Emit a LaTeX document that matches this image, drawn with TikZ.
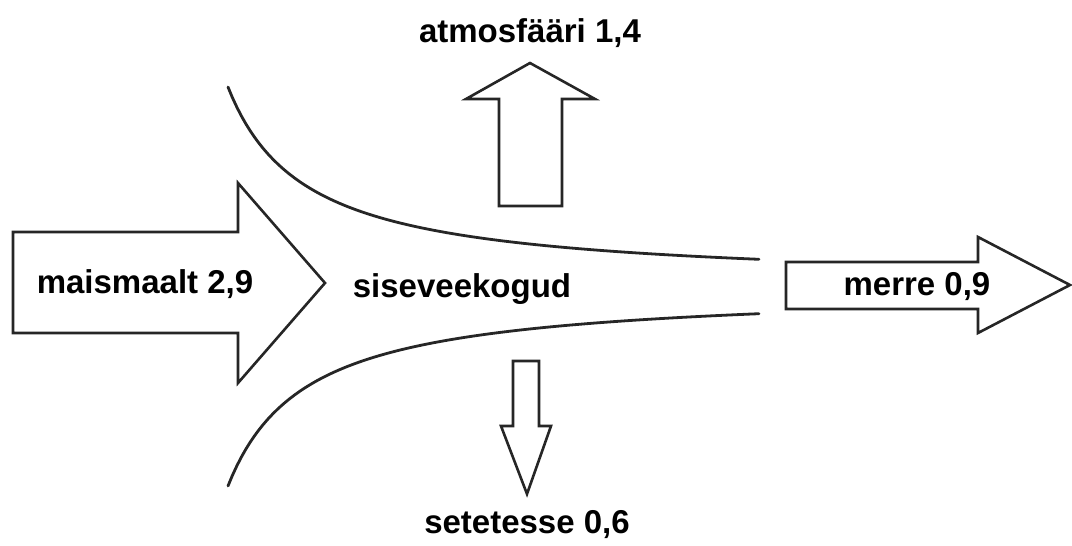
\documentclass[tikz,border=0pt]{standalone}
\usepackage{fontspec}
\setmainfont{Liberation Sans}
\begin{document}
\begin{tikzpicture}[x=1pt,y=-1pt,
  flow/.style={draw=black!85,line width=2.6pt,line join=miter,fill=white},
  bank/.style={draw=black!85,line width=2.8pt,line cap=round},
  lbl/.style={anchor=base,inner sep=0pt,font=\fontsize{33}{36}\selectfont\bfseries}]
\useasboundingbox (0,0) rectangle (1072,546);
% banks of the inland waters
\draw[bank] plot[domain=228:759,samples=120] (\x,{284.6-15410/(\x-150)});
\draw[bank] plot[domain=228:759,samples=120] (\x,{288.4+15410/(\x-150)});
% flows
\draw[flow] (13,232) -- (238,232) -- (238,183) -- (325,283) -- (238,383) -- (238,333) -- (13,333) -- cycle;
\draw[flow] (499,206) -- (499,99) -- (466,99) -- (530,63) -- (595,99) -- (562,99) -- (562,206) -- cycle;
\draw[flow] (513,361) -- (539,361) -- (539,426) -- (551,426) -- (527,494) -- (501,426) -- (513,426) -- cycle;
\draw[flow] (786,262) -- (978,262) -- (978,237) -- (1070,285) -- (978,333) -- (978,309) -- (786,309) -- cycle;
% labels
\node[lbl] (land) at (145,293) {maismaalt 2,9};
\node[lbl] (lake) at (462,297) {siseveekogud};
\node[lbl] (sea) at (917,295) {merre 0,9};
\node[lbl] (air) at (530,42) {atmosfääri 1,4};
\node[lbl] (sed) at (527,533) {setetesse 0,6};
\end{tikzpicture}
\end{document}
